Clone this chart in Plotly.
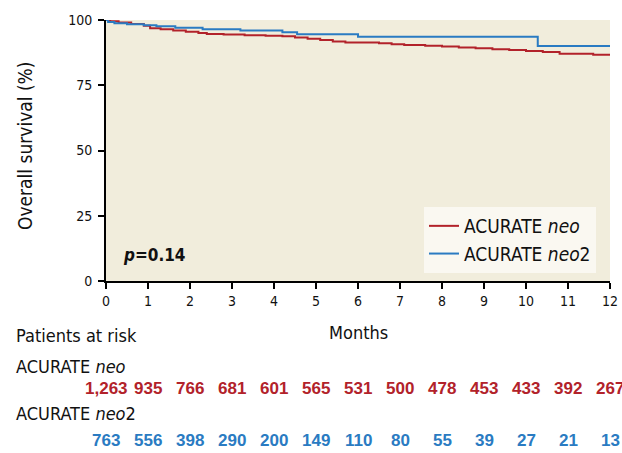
import plotly.graph_objects as go

months = list(range(13))
neo_t = [0, 0.1, 0.3, 0.6, 0.9, 1.05, 1.3, 1.6, 1.9, 2.2, 2.4, 2.8, 3.3, 3.8, 4.2, 4.5, 4.8, 5.1,
         5.4, 5.7, 6.5, 6.8, 7.1, 7.6, 8.0, 8.4, 8.8, 9.2, 9.6, 10.0, 10.4, 10.8, 11.6, 12]
neo_s = [100, 99.5, 99.0, 98.5, 97.8, 96.8, 96.5, 96.0, 95.5, 95.0, 94.6, 94.4, 94.2, 94.0, 93.8,
         93.3, 92.8, 92.3, 91.8, 91.4, 91.1, 90.7, 90.4, 90.1, 89.8, 89.5, 89.2, 88.8, 88.5, 88.1,
         87.7, 87.1, 86.7, 86.7]
neo2_t = [0, 0.05, 0.2, 0.5, 0.9, 1.2, 1.65, 2.3, 3.2, 4.2, 4.55, 6.0, 10.28, 12]
neo2_s = [100, 99.2, 98.8, 98.4, 98.0, 97.6, 97.0, 96.5, 96.0, 95.3, 94.5, 93.6, 90.0, 90.0]
risk_neo = ["1,263", "935", "766", "681", "601", "565", "531", "500", "478", "453", "433", "392", "267"]
risk_neo2 = ["763", "556", "398", "290", "200", "149", "110", "80", "55", "39", "27", "21", "13"]

RED = "#B2222A"
BLUE = "#2A7BC2"
FONT = "DejaVu Sans Condensed, sans-serif"
NUMFONT = "Liberation Sans, Arial, sans-serif"

L, R, T, B = 106, 610, 20, 281
W, H = R - L, B - T

def px(x):
    return (x - L) / W

def py(y):
    return (B - y) / H

fig = go.Figure()
fig.add_trace(go.Scatter(x=neo_t, y=neo_s, mode="lines", line=dict(color=RED, width=2, shape="hv"),
                         name="ACURATE <i>neo</i>"))
fig.add_trace(go.Scatter(x=neo2_t, y=neo2_s, mode="lines", line=dict(color=BLUE, width=2, shape="hv"),
                         name="ACURATE <i>neo</i>2"))

for i, m in enumerate(months):
    fig.add_annotation(x=m, y=py(388), xref="x", yref="paper", text="<b>%s</b>" % risk_neo[i],
                       xanchor="center", yanchor="middle",
                       showarrow=False, font=dict(color=RED, size=17, family=NUMFONT))
    fig.add_annotation(x=m, y=py(440), xref="x", yref="paper", text="<b>%s</b>" % risk_neo2[i],
                       xanchor="center", yanchor="middle",
                       showarrow=False, font=dict(color=BLUE, size=17, family=NUMFONT))

for txt, yy in [("Patients at risk", 335), ("ACURATE <i>neo</i>", 366), ("ACURATE <i>neo</i>2", 413)]:
    fig.add_annotation(x=px(14), xanchor="left", y=py(yy), yanchor="middle", xref="paper", yref="paper",
                       text=txt, showarrow=False, font=dict(color="#111", size=18, family=FONT))

fig.add_annotation(x=px(121), xanchor="left", y=py(255), yanchor="middle", xref="paper", yref="paper",
                   text="<b><i>p</i>=0.14</b>", showarrow=False, font=dict(color="#111", size=17, family=FONT))
fig.add_annotation(x=px(358), y=py(332), xanchor="center", yanchor="middle", xref="paper", yref="paper",
                   text="Months", showarrow=False, font=dict(color="#111", size=18, family=FONT))
fig.add_annotation(x=px(25), y=py(146), xanchor="center", yanchor="middle", xref="paper", yref="paper",
                   text="Overall survival (%)", textangle=-90, showarrow=False,
                   font=dict(color="#111", size=19, family=FONT))

fig.update_layout(
    width=622, height=453,
    margin=dict(l=L, r=622 - R, t=T, b=453 - B, autoexpand=False),
    paper_bgcolor="white", plot_bgcolor="#F1EDDC",
    font=dict(family=FONT, color="#111", size=14),
    showlegend=True,
    legend=dict(x=px(596), xanchor="right", y=py(273), yanchor="bottom", bgcolor="#FAF8F1",
                font=dict(size=19, family=FONT), tracegroupgap=0, itemwidth=30),
    xaxis=dict(range=[0, 12], tickvals=months, showgrid=False, zeroline=False, showline=True,
               linecolor="black", linewidth=2, ticks="outside", ticklen=6, tickwidth=1.5,
               tickcolor="black", tickfont=dict(size=14), automargin=False, ticklabelstandoff=0),
    yaxis=dict(range=[0, 100], tickvals=[0, 25, 50, 75, 100], showgrid=False, zeroline=False,
               showline=True, linecolor="black", linewidth=2, ticks="outside", ticklen=6,
               tickwidth=1.5, tickcolor="black", tickfont=dict(size=14), automargin=False,
               ticklabelstandoff=3),
)

fig.write_html("out.html", config={"displayModeBar": False},
               post_script="document.body.style.margin='0';document.body.style.overflow='hidden';")
